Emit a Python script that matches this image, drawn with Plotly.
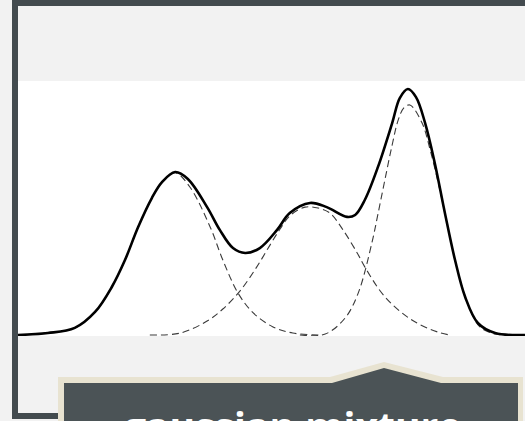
import plotly.graph_objects as go

# Mixture density (solid), x in [0, 10], peak height ~1
mix_x = [0.00, 0.59, 1.12, 1.52, 1.85, 2.11, 2.37, 2.64, 2.84, 3.10, 3.35, 3.73, 3.98, 4.24,
         4.48, 4.77, 5.11, 5.36, 5.76, 6.09, 6.49, 6.65, 6.84, 7.10, 7.38, 7.53, 7.69, 7.85,
         8.03, 8.22, 8.42, 8.62, 8.82, 9.07, 9.41, 10.00]
mix_y = [0.000, 0.008, 0.029, 0.094, 0.196, 0.306, 0.441, 0.559, 0.624, 0.665, 0.637, 0.522,
         0.429, 0.355, 0.335, 0.355, 0.429, 0.498, 0.539, 0.522, 0.482, 0.490, 0.551, 0.686,
         0.865, 0.967, 1.004, 0.971, 0.865, 0.702, 0.498, 0.306, 0.155, 0.049, 0.008, 0.000]

# Component 1 (dashed)
c1_x = [0.00, 0.59, 1.12, 1.52, 1.85, 2.11, 2.37, 2.64, 2.84, 3.10, 3.39, 3.79, 4.04, 4.34,
        4.64, 5.03, 5.42, 5.96]
c1_y = [0.000, 0.008, 0.029, 0.094, 0.196, 0.306, 0.441, 0.559, 0.624, 0.662, 0.604, 0.441,
        0.306, 0.171, 0.090, 0.033, 0.008, 0.000]

# Component 2 (dashed)
c2_x = [2.60, 3.20, 3.73, 4.04, 4.38, 4.71, 4.97, 5.17, 5.36, 5.66, 5.92, 6.15, 6.41, 6.69,
        6.84, 7.24, 7.77, 8.28, 8.52]
c2_y = [0.000, 0.008, 0.057, 0.106, 0.180, 0.278, 0.367, 0.433, 0.486, 0.522, 0.518, 0.498,
        0.429, 0.335, 0.278, 0.155, 0.061, 0.012, 0.000]

# Component 3 (dashed)
c3_x = [5.56, 6.06, 6.45, 6.71, 6.98, 7.10, 7.24, 7.38, 7.50, 7.61, 7.73, 7.97, 8.13, 8.32,
        8.52, 8.72, 8.92, 9.11, 9.41, 9.70]
c3_y = [0.000, 0.004, 0.069, 0.171, 0.376, 0.494, 0.637, 0.776, 0.878, 0.927, 0.939, 0.865,
        0.755, 0.592, 0.400, 0.224, 0.102, 0.033, 0.004, 0.000]

caption = "gaussian mixture"

W, H = 525, 421


def px(x):
    return x / W


def py(y):
    return 1 - y / H


def path(points):
    return "M " + " L ".join(f"{px(a):.5f},{py(b):.5f}" for a, b in points) + " Z"


fig = go.Figure()
dash_style = dict(color="#3a3a3a", width=1.1, dash="7px,4px")
for cx, cy in [(c1_x, c1_y), (c2_x, c2_y), (c3_x, c3_y)]:
    fig.add_trace(go.Scatter(x=cx, y=cy, mode="lines", line=dict(shape="spline", smoothing=1.0, **dash_style),
                             hoverinfo="skip", showlegend=False))
fig.add_trace(go.Scatter(x=mix_x, y=mix_y, mode="lines",
                         line=dict(color="#000000", width=2.6, shape="spline", smoothing=1.0),
                         hoverinfo="skip", showlegend=False))

frame_col = "#434b4f"
P = dict(xref="paper", yref="paper", line_width=0, layer="above")
shapes = [
    # frame bars
    dict(type="path", path=path([(12, -2), (18, -2), (18, 419), (12, 419)]), fillcolor=frame_col, **P),
    dict(type="path", path=path([(12, -2), (530, -2), (530, 6), (12, 6)]), fillcolor=frame_col, **P),
    dict(type="path", path=path([(12, 413), (62, 413), (62, 419), (12, 419)]), fillcolor=frame_col, **P),
    # callout outer (beige) and inner (dark)
    dict(type="path", path=path([(58, 377), (330, 377), (384, 362), (443, 377), (523, 377), (523, 430), (58, 430)]),
         fillcolor="#e8e3d1", **P),
    dict(type="path", path=path([(64, 383), (332, 383), (384, 368), (441, 383), (518, 383), (518, 430), (64, 430)]),
         fillcolor="#4b5356", **P),
]

fig.update_layout(
    width=W, height=H,
    margin=dict(l=0, r=0, t=0, b=0),
    paper_bgcolor="#f2f2f2",
    plot_bgcolor="#ffffff",
    shapes=shapes,
    xaxis=dict(domain=[18 / W, 1], range=[0, 10], visible=False, fixedrange=True),
    yaxis=dict(domain=[py(336), py(81)], range=[(335 - 336) / 245, (335 - 81) / 245], visible=False, fixedrange=True),
    annotations=[dict(text="<b>" + caption + "</b>", xref="paper", yref="paper", x=px(292), y=py(397),
                      xanchor="center", yanchor="top", showarrow=False,
                      font=dict(family="Open Sans", size=39, color="#ffffff"))],
    showlegend=False,
)

fig.write_html("out.html", config={"displayModeBar": False},
               post_script="document.body.style.margin='0';document.body.style.overflow='hidden';")
